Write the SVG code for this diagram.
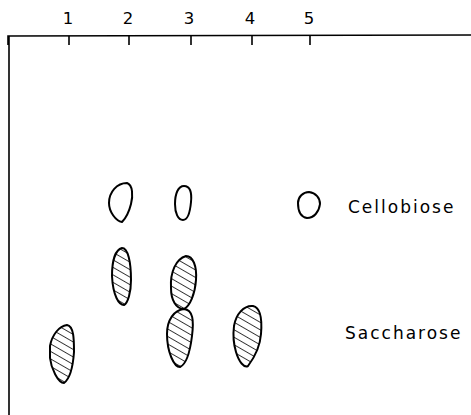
<svg xmlns="http://www.w3.org/2000/svg" width="471" height="415" viewBox="0 0 471 415">
<style>
.ln{stroke:#000;stroke-width:1.6;fill:none}
.spot{stroke:#000;stroke-width:2;fill:#fff}
.hat{stroke:#000;stroke-width:2;fill:url(#hatch)}
.num{font-family:"DejaVu Sans","Liberation Sans",sans-serif;font-size:16.5px;fill:#000;text-anchor:middle}
.lab{font-family:"DejaVu Sans","Liberation Sans",sans-serif;font-size:17px;fill:#000;letter-spacing:2px}
</style>
<defs>
<pattern id="hatch" patternUnits="userSpaceOnUse" width="6.5" height="6.5" patternTransform="rotate(-60)">
<rect width="6.5" height="6.5" fill="#fff"/>
<line x1="0" y1="0" x2="0" y2="6.5" stroke="#000" stroke-width="1.5"/>
</pattern>
</defs>
<g id="axis">
<path class="ln" d="M8,45 L8,36 L471,35 M9,36 L9,415"/>
<path class="ln" d="M69,36 V45 M129,36 V45 M191,36 V45 M252,36 V45 M310,36 V45"/>
<text class="num" x="68" y="24">1</text>
<text class="num" x="128" y="24">2</text>
<text class="num" x="189" y="24">3</text>
<text class="num" x="250" y="24">4</text>
<text class="num" x="309" y="24">5</text>
</g>
<g id="spot-2-open"><path class="spot" d="M109,203 C109,192 117,183 127,183 C133,185 133,196 131,204 C129,212 125,219 122,222 C116,221 109,212 109,203 Z"/></g>
<g id="spot-3-open"><path class="spot" d="M175,204 C175,194 178,186 184,186 C190,186 192,192 191,202 C190,213 188,220 183,220 C178,220 175,213 175,204 Z"/></g>
<g id="spot-5-open"><path class="spot" d="M298,203 C298,197 303,192 309,192 C316,193 320,198 320,204 C319,212 314,218 307,218 C301,217 298,211 298,203 Z"/></g>
<g id="spot-2-hatched"><path class="hat" d="M112,276 C112,262 115,250 122,248 C128,248 131,262 131,280 C131,292 128,303 124,305 C119,305 113,296 112,276 Z"/></g>
<g id="spot-3-upper"><path class="hat" d="M171,288 C170,272 176,259 186,256 C193,256 197,266 196,280 C195,294 190,306 184,309 C176,309 171,300 171,288 Z"/></g>
<g id="spot-3-lower"><path class="hat" d="M167,334 C167,320 174,310 184,309 C193,310 194,320 192,336 C190,352 187,364 180,367 C174,367 167,352 167,334 Z"/></g>
<g id="spot-1-hatched"><path class="hat" d="M50,346 C52,335 59,326 67,325 C74,326 74,340 74,352 C73,366 71,378 64,383 C58,383 51,368 50,358 Z"/></g>
<g id="spot-4-hatched"><path class="hat" d="M234,326 C236,314 244,305 253,306 C262,308 262,322 261,334 C260,348 254,358 248,366 C244,368 239,362 236,352 C233,342 233,334 234,326 Z"/></g>
<g id="labels">
<text class="lab" x="348" y="213">Cellobiose</text>
<text class="lab" x="345" y="339">Saccharose</text>
</g>
</svg>
